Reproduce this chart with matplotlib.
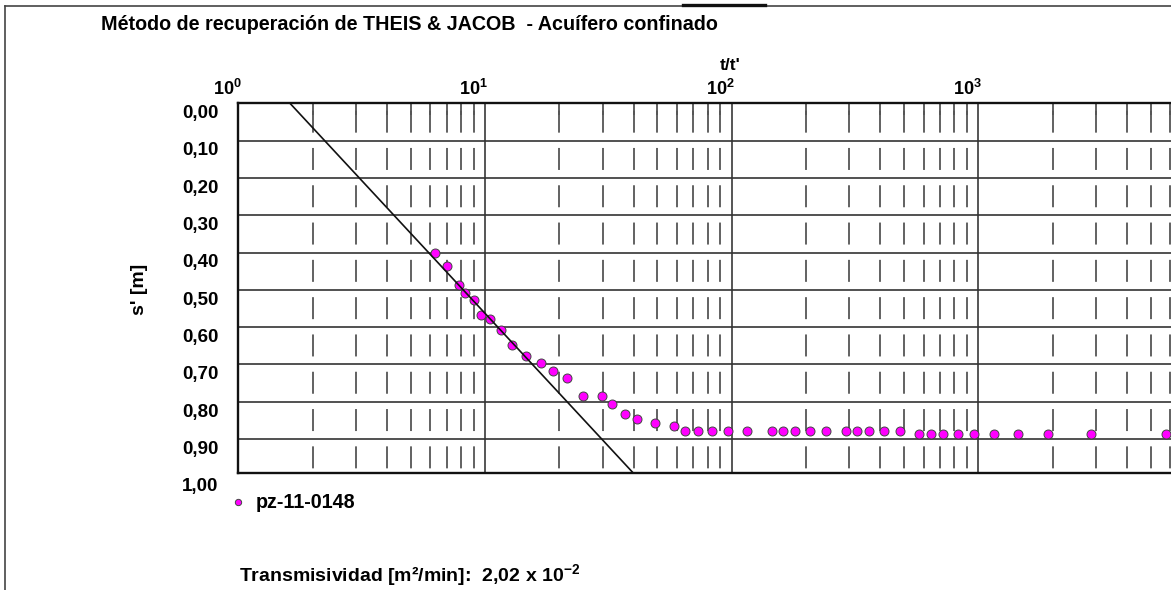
import matplotlib
matplotlib.use('Agg')
import matplotlib.pyplot as plt
from matplotlib.lines import Line2D
from matplotlib.transforms import blended_transform_factory, ScaledTranslation
from matplotlib.ticker import LogLocator, NullFormatter

plt.rcParams['font.family'] = ['Liberation Sans', 'DejaVu Sans']
plt.rcParams['mathtext.fontset'] = 'custom'
plt.rcParams['mathtext.rm'] = 'Liberation Sans'
plt.rcParams['mathtext.bf'] = 'Liberation Sans:bold'
plt.rcParams['lines.scale_dashes'] = False

# ---------------- data ----------------
t_ratio = [6.29, 7.02, 7.82, 8.32, 9.0, 9.66, 10.5, 11.58, 12.9, 14.6,
           16.9, 18.9, 21.5, 24.9, 29.7, 32.7, 36.9, 41.4, 49.1, 58.3,
           64.9, 73.1, 83.1, 96.9, 115.7, 145.6, 161.4, 180, 207, 241,
           290, 322, 359, 413, 480,
           576, 643, 721, 827, 959, 1153, 1443, 1915, 2870, 5776]
s_resid = [0.400, 0.436, 0.486, 0.509, 0.528, 0.567, 0.577, 0.608, 0.649, 0.677,
           0.696, 0.717, 0.735, 0.784, 0.784, 0.807, 0.834, 0.846, 0.858, 0.866,
           0.877, 0.877, 0.877, 0.877, 0.877, 0.877, 0.877, 0.877, 0.877, 0.877,
           0.877, 0.877, 0.877, 0.877, 0.877,
           0.885, 0.885, 0.885, 0.885, 0.885, 0.885, 0.885, 0.885, 0.885, 0.885]
series_name = 'pz-11-0148'

fit_t = [1.62, 41.1]
fit_s = [0.0, 1.0]

y_ticks = [0.0, 0.1, 0.2, 0.3, 0.4, 0.5, 0.6, 0.7, 0.8, 0.9, 1.0]
y_labels = ['0,00', '0,10', '0,20', '0,30', '0,40', '0,50', '0,60', '0,70', '0,80', '0,90', '1,00']
x_major = [1, 10, 100, 1000]
x_major_labels = [r'$\mathbf{10^{0}}$', r'$\mathbf{10^{1}}$', r'$\mathbf{10^{2}}$', r'$\mathbf{10^{3}}$']

title = 'Método de recuperación de THEIS & JACOB  - Acuífero confinado'
x_title = "t/t'"
y_title = "s' [m]"
transm_text = r'Transmisividad [m²/min]:  2,02 x 10$^{\mathbf{-2}}$'

# ---------------- figure ----------------
W, H = 1171, 590
fig = plt.figure(figsize=(W / 100, H / 100), dpi=100)
fig.patch.set_facecolor('white')

ax_l, ax_t, ax_b = 238.3, 103.3, 472.7
decade = 246.7
ax_r = ax_l + 4 * decade
ax = fig.add_axes([ax_l / W, 1 - ax_b / H, (ax_r - ax_l) / W, (ax_b - ax_t) / H])
ax.set_xscale('log')
ax.set_xlim(1, 1e4)
ax.set_ylim(0.99, 0.0)

px = 0.72  # points per pixel at 100 dpi

# gridlines
ax.set_yticks(y_ticks[:-1])
ax.yaxis.set_major_formatter(NullFormatter())
ax.set_xticks(x_major)
ax.xaxis.set_major_formatter(NullFormatter())
ax.xaxis.set_minor_locator(LogLocator(base=10, subs=[2, 3, 4, 5, 6, 7, 8, 9], numticks=20))
ax.xaxis.set_minor_formatter(NullFormatter())
ax.tick_params(axis='both', which='both', length=0, labelleft=False, labelbottom=False)
ax.xaxis.tick_top()
ax.tick_params(axis='x', which='minor', top=True, direction='in', length=12 * px,
               width=1.3, color='#555555')
ax.tick_params(axis='x', which='major', length=0)
ax.grid(axis='y', which='major', color='#333333', lw=1.2, zorder=1)
ax.grid(axis='x', which='major', color='#555555', lw=1.4, zorder=1)

# dashed minor verticals: one dash centred in each 0.1 cell
cell = 37.3
on, off = 22.0, cell - 22.0
offset = cell - (cell - on) / 2.0
minor_vals = [m * 10 ** d for d in range(4) for m in range(2, 10)]
for v in minor_vals:
    ax.plot([v, v], [0.0, 0.99], color='#555555', lw=1.3,
            linestyle=(offset * px, (on * px, off * px)), zorder=1)

for side in ['left', 'top', 'bottom']:
    ax.spines[side].set_linewidth(1.7)
    ax.spines[side].set_color('#111111')
ax.spines['right'].set_visible(False)

# data
ax.plot(t_ratio, s_resid, linestyle='none', marker='o', markersize=9 * px,
        markerfacecolor='#ff00ff', markeredgecolor='#444444', markeredgewidth=0.7,
        zorder=3, label=series_name)
ax.plot(fit_t, fit_s, color='#111111', lw=1.2, zorder=4)

# y tick labels (offset downward like the original)
ytr = blended_transform_factory(ax.transAxes, ax.transData) + \
    ScaledTranslation(-20 / 100, -10.3 / 100, fig.dpi_scale_trans)
for v, lab in zip(y_ticks, y_labels):
    ax.text(0, v, lab, transform=ytr, ha='right', va='center', fontsize=13.5,
            fontweight='bold', clip_on=False)

# x tick labels on top
xtr = blended_transform_factory(ax.transData, ax.transAxes) + \
    ScaledTranslation(3 / 100, 8 / 100, fig.dpi_scale_trans)
for v, lab in zip(x_major, x_major_labels):
    ax.text(v, 1, lab, transform=xtr, ha='right', va='baseline', fontsize=13,
            clip_on=False)

# titles
fig.text(101 / W, 1 - 30 / H, title, fontsize=14.2, fontweight='bold',
         ha='left', va='baseline')
fig.text(730 / W, 1 - 65 / H, x_title, fontsize=12.5, fontweight='bold',
         ha='center', va='center')
fig.text(140 / W, 1 - 289 / H, y_title, fontsize=14, fontweight='bold',
         ha='center', va='center', rotation=90)

# legend
leg = ax.legend(loc='center left', bbox_to_anchor=(228 / W, 1 - 503 / H),
                bbox_transform=fig.transFigure, frameon=False, borderpad=0,
                borderaxespad=0, handlelength=1.0, handletextpad=0.4,
                markerscale=0.7, prop={'weight': 'bold', 'size': 14.2})

fig.text(239 / W, 1 - 576 / H, transm_text, fontsize=14, fontweight='bold',
         ha='left', va='center')

# page frame
fig.add_artist(Line2D([5 / W, 5 / W], [1 - 6 / H, 0], transform=fig.transFigure,
                      color='#444444', lw=1.2))
fig.add_artist(Line2D([5 / W, 1], [1 - 6 / H, 1 - 6 / H], transform=fig.transFigure,
                      color='#444444', lw=1.2))
fig.add_artist(Line2D([683 / W, 765 / W], [1 - 4.5 / H, 1 - 4.5 / H],
                      transform=fig.transFigure, color='#111111', lw=2.4))

fig.savefig('out.png', dpi=100, facecolor='white')
